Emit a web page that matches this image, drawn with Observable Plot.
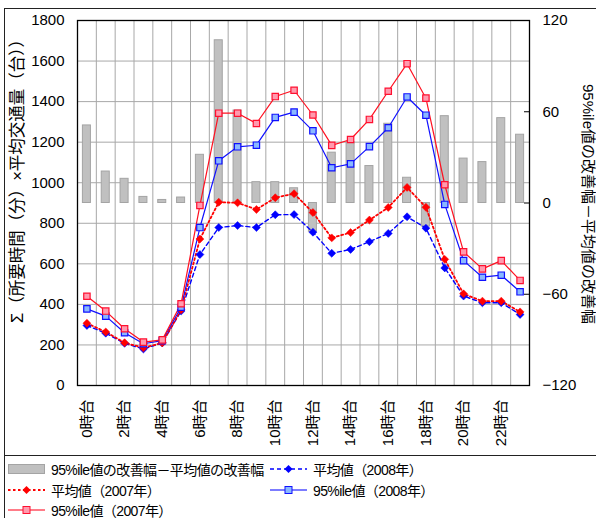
<!DOCTYPE html>
<html><head><meta charset="utf-8">
<script src="https://cdn.jsdelivr.net/npm/d3@7"></script>
<script src="https://cdn.jsdelivr.net/npm/@observablehq/plot@0.6"></script>
<style>
html,body{margin:0;padding:0;background:#fff;}
body{width:596px;height:518px;overflow:hidden;position:relative;font-family:"Liberation Sans","Noto Sans CJK JP",sans-serif;color:#000;}
#frame{position:absolute;left:4px;top:8px;width:620px;height:540px;border:1px solid #222;box-sizing:border-box;pointer-events:none;}
#chart{position:absolute;left:0;top:0;}
#legend{position:absolute;left:4px;top:455px;width:620px;height:80px;border-top:1px solid #222;}
.item{position:absolute;height:20px;display:flex;align-items:center;font-size:14px;letter-spacing:-0.6px;white-space:nowrap;}
.item svg{margin-right:5px;}
</style></head>
<body>
<div id="chart"></div>
<div id="legend"></div>
<div id="frame"></div>
<script>
const hourLabels = ["0時台","1時台","2時台","3時台","4時台","5時台","6時台","7時台","8時台","9時台","10時台","11時台","12時台","13時台","14時台","15時台","16時台","17時台","18時台","19時台","20時台","21時台","22時台","23時台"];
const tickHours = ["0時台","2時台","4時台","6時台","8時台","10時台","12時台","14時台","16時台","18時台","20時台","22時台"];
const leftTicks = [0,200,400,600,800,1000,1200,1400,1600,1800];
const rightTicks = [120,60,0,-60,-120];
// 95%ile値の改善幅－平均値の改善幅 (right axis)
const diff = [51, 20.7, 15.9, 4, 2, 3.6, 31.7, 107, 60.8, 13.7, 13.7, 9.7, -19, 33.1, 40, 24.3, 52.1, 16.6, -15.5, 57.1, 29.2, 26.9, 55.8, 44.9];
// 平均値（2008年）
const mean2008 = [296, 258, 208, 180, 210, 367, 646, 779, 789, 779, 842, 843, 756, 652, 671, 709, 750, 832, 776, 580, 441, 408, 408, 350];
// 平均値（2007年）
const mean2007 = [307, 264, 211, 186, 210, 373, 722, 904, 901, 868, 926, 946, 853, 728, 754, 816, 878, 977, 879, 622, 452, 416, 416, 363];
// 95%ile値（2008年）
const p95_2008 = [378, 342, 260, 206, 221, 386, 779, 1108, 1177, 1185, 1322, 1348, 1256, 1074, 1093, 1178, 1271, 1423, 1333, 893, 616, 534, 544, 462];
// 95%ile値（2007年）
const p95_2007 = [440, 367, 280, 214, 225, 403, 888, 1343, 1343, 1292, 1425, 1456, 1334, 1184, 1213, 1312, 1451, 1587, 1417, 990, 659, 575, 616, 518];

const leftTitle = "Σ（所要時間（分）×平均交通量（台））";
const rightTitle = "95%ile値の改善幅－平均値の改善幅";
const legendLabels = ["95%ile値の改善幅－平均値の改善幅","平均値（2008年）","平均値（2007年）","95%ile値（2008年）","95%ile値（2007年）"];

const rows = hourLabels.map((h,i)=>({h, diff:diff[i], m08:mean2008[i], m07:mean2007[i], p08:p95_2008[i], p07:p95_2007[i]}));
// right axis (-120..120) mapped onto left axis (0..1800)
const toLeft = v => 900 + v*7.5;
const fromLeft = v => (v-900)/7.5;
const fmt = v => (v<0 ? "\u2212" + Math.abs(Math.round(v)) : String(Math.round(v)));

const W = 596, H = 455, mL = 77, mR = 67, mT = 20, mB = 70;
const bw = (W - mL - mR) / hourLabels.length;
const grid = "#a8a8a8";
const font = '"Liberation Sans","Noto Sans CJK JP",sans-serif';

const chart = Plot.plot({
  width: W, height: H,
  marginLeft: mL, marginRight: mR, marginTop: mT, marginBottom: mB,
  style: {fontFamily: font, fontSize: "15px", color: "#000", background: "transparent", overflow: "visible"},
  x: {type: "band", domain: hourLabels, padding: 0, round: false},
  y: {domain: [0, 1800]},
  marks: [
    Plot.ruleY(leftTicks.filter(v => v > 0 && v < 1800), {stroke: grid, strokeWidth: 1}),
    Plot.ruleX(hourLabels.slice(1), {stroke: grid, strokeWidth: 1, dx: -bw/2}),
    Plot.barY(rows, {x: "h", y1: 900, y2: d => toLeft(d.diff), fill: "#c0c0c0", stroke: "#a4a4a4", strokeWidth: 1, insetLeft: 5.4, insetRight: 5.4}),
    Plot.line(rows, {x: "h", y: "m08", stroke: "#0000ff", strokeWidth: 1.4, strokeDasharray: "4,3"}),
    Plot.line(rows, {x: "h", y: "m07", stroke: "#ff0000", strokeWidth: 1.8, strokeDasharray: "2,2.5"}),
    Plot.line(rows, {x: "h", y: "p08", stroke: "#1010ff", strokeWidth: 1.2}),
    Plot.line(rows, {x: "h", y: "p07", stroke: "#ff1020", strokeWidth: 1.2}),
    Plot.dot(rows, {x: "h", y: "m08", symbol: "diamond2", r: 3.6, fill: "#0000ff", stroke: "#0000ff", strokeWidth: 0.5}),
    Plot.dot(rows, {x: "h", y: "m07", symbol: "diamond2", r: 3.6, fill: "#ff0000", stroke: "#ff0000", strokeWidth: 0.5}),
    Plot.dot(rows, {x: "h", y: "p08", symbol: "square", r: 3.6, fill: "#8ab8ff", stroke: "#1010ff", strokeWidth: 1.2}),
    Plot.dot(rows, {x: "h", y: "p07", symbol: "square", r: 3.6, fill: "#ff9aae", stroke: "#ff1030", strokeWidth: 1.2}),
    Plot.tickY(rightTicks.slice(1, -1).map(toLeft), {y: d => d, stroke: "#000", insetLeft: W - mL - mR - 5}),
    Plot.frame({stroke: "#000", strokeWidth: 1.3}),
    Plot.axisY({ticks: leftTicks, tickFormat: d3.format("d"), tickSize: 0, tickPadding: 13, label: null, fontSize: 15}),
    Plot.axisY({anchor: "right", ticks: rightTicks.map(toLeft), tickFormat: v => fmt(fromLeft(v)), tickSize: 0, tickPadding: 13, label: null, fontSize: 15}),
    Plot.axisX({ticks: tickHours, tickSize: 0, tickRotate: -90, tickPadding: 14, label: null, fontSize: 15}),
    Plot.text([leftTitle], {text: d => d, frameAnchor: "left", textAnchor: "middle", dx: -60, dy: -26, rotate: -90, fontSize: 16.5}),
    Plot.text([rightTitle], {text: d => d, frameAnchor: "right", textAnchor: "middle", dx: 58, dy: 1, rotate: 90, fontSize: 15})
  ]
});
document.getElementById("chart").appendChild(chart);

// legend
const legend = document.getElementById("legend");
function sw(kind) {
  const ns = "http://www.w3.org/2000/svg";
  const s = document.createElementNS(ns, "svg");
  s.setAttribute("width", 38); s.setAttribute("height", 14);
  let html = "";
  if (kind === 0) html = '<rect x="0.5" y="2.5" width="36" height="9" fill="#c0c0c0" stroke="#a4a4a4"/>';
  if (kind === 1) html = '<line x1="0" x2="37" y1="7" y2="7" stroke="#0000ff" stroke-width="1.3" stroke-dasharray="4,3"/><path d="M18.5,3L22.5,7L18.5,11L14.5,7Z" fill="#0000ff"/>';
  if (kind === 2) html = '<line x1="0" x2="37" y1="7" y2="7" stroke="#ff0000" stroke-width="2" stroke-dasharray="2.5,2.5"/><path d="M18.5,3L22.5,7L18.5,11L14.5,7Z" fill="#ff0000"/>';
  if (kind === 3) html = '<line x1="0" x2="37" y1="7" y2="7" stroke="#5050ff" stroke-width="1.6"/><rect x="15" y="3.5" width="7" height="7" fill="#8ab8ff" stroke="#1010ff"/>';
  if (kind === 4) html = '<line x1="0" x2="37" y1="7" y2="7" stroke="#ff5060" stroke-width="1.6"/><rect x="15" y="3.5" width="7" height="7" fill="#ff9aae" stroke="#ff1030"/>';
  s.innerHTML = html;
  return s;
}
const pos = [[4, 3], [266, 3], [4, 24], [266, 24], [4, 44]];
legendLabels.forEach((t, i) => {
  const d = document.createElement("div");
  d.className = "item";
  d.style.left = pos[i][0] + "px";
  d.style.top = pos[i][1] + "px";
  d.appendChild(sw(i));
  const sp = document.createElement("span");
  sp.textContent = t;
  d.appendChild(sp);
  legend.appendChild(d);
});
</script>
</body></html>
